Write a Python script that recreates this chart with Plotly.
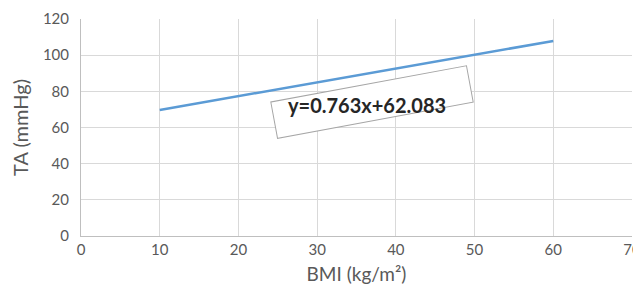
import plotly.graph_objects as go

# Data
bmi = [10, 60]
slope = 0.763
intercept = 62.083
ta = [round(slope * x + intercept, 3) for x in bmi]
equation_label = "y=0.763x+62.083"
x_title = "BMI (kg/m²)"
y_title = "TA (mmHg)"
x_ticks = [0, 10, 20, 30, 40, 50, 60, 70]
y_ticks = [0, 20, 40, 60, 80, 100, 120]

FONT = "Lato, Liberation Sans, sans-serif"
GREY = "#595959"

fig = go.Figure()
fig.add_trace(go.Scatter(x=bmi, y=ta, mode="lines",
                         line=dict(color="#5b9bd5", width=2.5),
                         showlegend=False, hoverinfo="skip"))

# rotated box (empty) around the equation label
fig.add_annotation(x=37.0, y=74.1, xref="x", yref="y", text=" ",
                   showarrow=False, textangle=-10.5,
                   width=196, height=34, borderpad=1,
                   bordercolor="#a6a6a6", borderwidth=1,
                   bgcolor="rgba(255,255,255,1)")
# horizontal equation text
fig.add_annotation(x=36.3, y=72.6, xref="x", yref="y", text="<b>" + equation_label + "</b>",
                   showarrow=False, font=dict(family=FONT, size=20, color="#262626"))

fig.update_layout(
    width=633, height=279,
    margin=dict(l=73, r=9, t=11, b=51),
    paper_bgcolor="white", plot_bgcolor="white",
    font=dict(family=FONT, color=GREY, size=15),
)
fig.update_xaxes(range=[0, 70], tickvals=x_ticks, showgrid=True, gridcolor="#d9d9d9", gridwidth=1,
                 zeroline=False, showline=True, linecolor="#bfbfbf", linewidth=1,
                 ticks="", tickfont=dict(size=15, color=GREY), automargin=False,
                 ticklabeloverflow="allow",
                 title=dict(text=x_title, font=dict(size=19, color=GREY), standoff=10))
fig.update_yaxes(range=[0, 120], tickvals=y_ticks, showgrid=True, gridcolor="#d9d9d9", gridwidth=1,
                 zeroline=False, showline=True, linecolor="#bfbfbf", linewidth=1,
                 ticks="", tickfont=dict(size=15, color=GREY), ticklabelstandoff=8,
                 automargin=False,
                 title=dict(text=y_title, font=dict(size=20, color=GREY), standoff=14))

fig.write_html("out.html")
